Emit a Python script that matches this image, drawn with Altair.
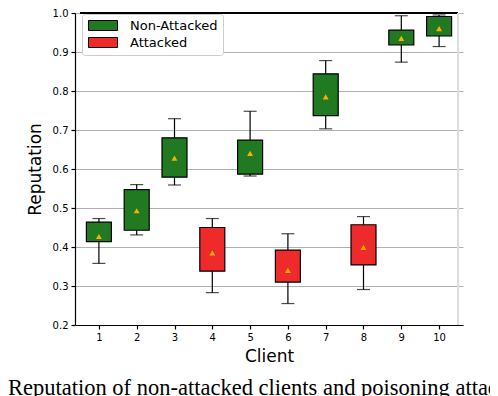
import altair as alt
import pandas as pd

# ---- data ----
clients = [1, 2, 3, 4, 5, 6, 7, 8, 9, 10]
status = ["Non-Attacked", "Non-Attacked", "Non-Attacked", "Attacked", "Non-Attacked",
          "Attacked", "Non-Attacked", "Attacked", "Non-Attacked", "Non-Attacked"]
whisker_low = [0.358, 0.431, 0.559, 0.283, 0.582, 0.255, 0.703, 0.291, 0.874, 0.914]
q1 = [0.414, 0.443, 0.579, 0.338, 0.587, 0.310, 0.737, 0.354, 0.918, 0.941]
q3 = [0.464, 0.547, 0.680, 0.450, 0.674, 0.392, 0.844, 0.457, 0.956, 0.991]
whisker_high = [0.473, 0.560, 0.729, 0.473, 0.748, 0.434, 0.878, 0.478, 0.993, 0.995]
means = [0.427, 0.493, 0.628, 0.385, 0.640, 0.340, 0.785, 0.399, 0.935, 0.960]
y_ticks = [0.2, 0.3, 0.4, 0.5, 0.6, 0.7, 0.8, 0.9, 1.0]
groups = ["Non-Attacked", "Attacked"]
caption = ["Reputation of non-attacked clients and poisoning attack"]

GREEN = "#217a21"
RED = "#ee2a2a"
ORANGE = "#ffae00"

df = pd.DataFrame({
    "client": clients, "status": status, "low": whisker_low,
    "q1": q1, "q3": q3, "high": whisker_high, "mean": means,
})

W, H = 388, 312
x_scale = alt.Scale(domain=[0.5, 10.5], nice=False, zero=False)
y_scale = alt.Scale(domain=[0.2, 1.0], nice=False, zero=False)

x_axis = alt.Axis(values=clients, format="d", title="Client", grid=False,
                  tickCount=20, tickSize=4, labelPadding=3, titlePadding=6)
y_axis = alt.Axis(values=y_ticks, format=".1f", title="Reputation", grid=True,
                  tickCount=20, labelOverlap=False, tickSize=4, labelPadding=3,
                  titlePadding=8)

X = alt.X("client:Q", scale=x_scale, axis=x_axis)

def Y(field):
    return alt.Y(f"{field}:Q", scale=y_scale, axis=y_axis)

base = alt.Chart(df)

whisk_lo = base.mark_rule(color="black", strokeWidth=1.2).encode(x=X, y=Y("low"), y2="q1:Q")
whisk_hi = base.mark_rule(color="black", strokeWidth=1.2).encode(x=X, y=Y("q3"), y2="high:Q")
cap_lo = base.mark_tick(orient="horizontal", size=13, thickness=1.2, color="black").encode(x=X, y=Y("low"))
cap_hi = base.mark_tick(orient="horizontal", size=13, thickness=1.2, color="black").encode(x=X, y=Y("high"))

boxes = base.mark_bar(size=25, stroke="black", strokeWidth=1.2, opacity=1).encode(
    x=X, y=Y("q1"), y2="q3:Q",
    color=alt.Color("status:N",
                    scale=alt.Scale(domain=groups, range=[GREEN, RED]),
                    legend=alt.Legend(
                        orient="none", legendX=7, legendY=1, title=None,
                        symbolType="M-1,-1H4.8V1H-1Z", symbolSize=100,
                        symbolStrokeColor="black", symbolStrokeWidth=1,
                        symbolOpacity=1, labelFontSize=13, labelOffset=30,
                        labelFont="DejaVu Sans", labelColor="black",
                        fillColor="white", strokeColor="#cccccc", cornerRadius=3,
                        padding=5, rowPadding=2)),
)

mean_pts = base.mark_point(shape="triangle-up", filled=True, color=ORANGE,
                           size=35, opacity=1).encode(x=X, y=Y("mean"))

top_spine = alt.Chart(df).mark_rule(color="black", strokeWidth=1.2).encode(
    x=alt.datum(0.5, scale=x_scale), x2=alt.datum(10.5), y=alt.datum(1.0))
right_spine = alt.Chart(df).mark_rule(color="#dddddd", strokeWidth=1).encode(
    x=alt.datum(10.5), y=alt.datum(0.2), y2=alt.datum(1.0))

cap_text = alt.Chart(pd.DataFrame({"t": caption})).mark_text(
    align="left", baseline="alphabetic", font="Liberation Serif", fontSize=22.5,
    color="black").encode(x=alt.value(-67), y=alt.value(382), text="t:N")

chart = alt.layer(whisk_lo, whisk_hi, cap_lo, cap_hi, boxes, mean_pts,
                  top_spine, right_spine, cap_text).properties(
    width=W, height=H,
    autosize=alt.AutoSizeParams(type="none"),
    padding={"left": 67, "top": 5, "right": 27, "bottom": 71},
).configure_view(stroke=None).configure_axis(
    domainColor="black", domainWidth=1.2, tickColor="black", tickWidth=1.2,
    labelFont="DejaVu Sans", labelFontSize=10, labelColor="black",
    titleFont="DejaVu Sans", titleFontSize=17, titleFontWeight="normal",
    titleColor="black", gridColor="#b0b0b0", gridWidth=1,
)

chart.save("out.html", embed_options={"renderer": "svg", "actions": False})
